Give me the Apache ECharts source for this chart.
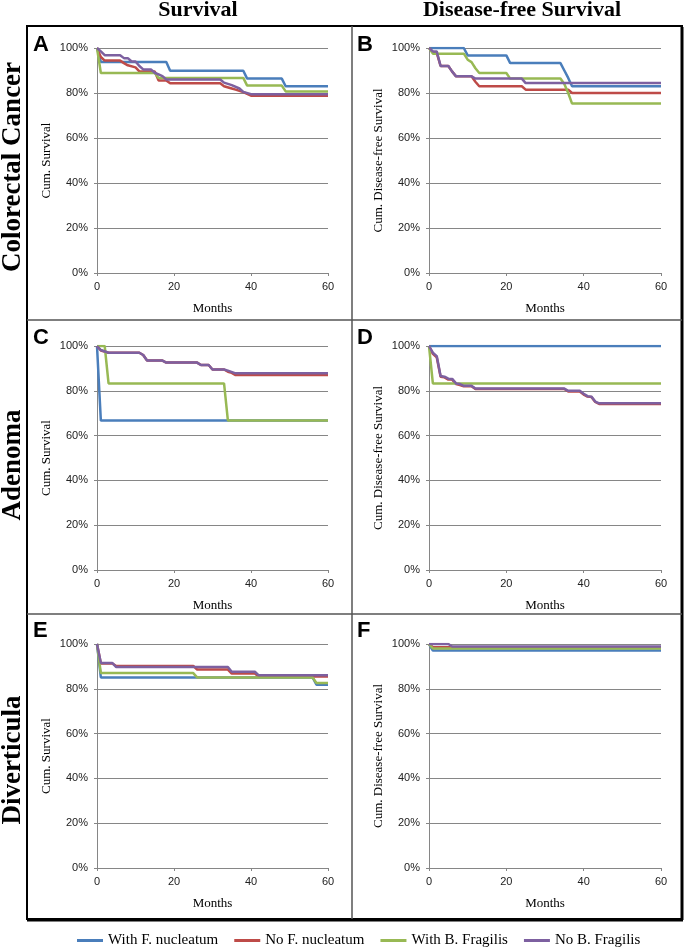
<!DOCTYPE html>
<html>
<head>
<meta charset="utf-8">
<title>Survival curves</title>
<script src="https://cdn.jsdelivr.net/npm/echarts@6/dist/echarts.min.js"></script>
<style>
html, body { margin: 0; padding: 0; background: #fff; }
#main { width: 685px; height: 949px; }
</style>
</head>
<body>
<div id="main"></div>
<script>
// legend / series names
var seriesNames = ['With F. nucleatum', 'No F. nucleatum', 'With B. Fragilis', 'No B. Fragilis'];
var monthTicks = [0, 20, 40, 60];
var pctTicks = [0, 20, 40, 60, 80, 100];

// A - colorectal cancer, survival  [month, %]
var A_withFn = [[0,100],[1,93.8],[18,93.8],[19,89.9],[38,89.9],[39,86.4],[48,86.4],[49,83],[60,83]];
var A_noFn = [[0,100],[1,96],[2,94.4],[6,94.4],[7,93.3],[8,92.3],[10,91.4],[11,89.6],[15,89.6],[16,85.6],[18,85.6],[19,84.3],[32,84.3],[33,83],[35,82],[36,81.5],[38,80.4],[40,78.8],[60,78.8]];
var A_withBf = [[0,100],[1,88.9],[15,88.9],[16,86.7],[38,86.7],[39,83.3],[48,83.3],[49,80.7],[60,80.7]];
var A_noBf = [[0,100],[1,98.5],[2,96.8],[6,96.8],[7,95.5],[8,95.5],[9,94],[10,94],[11,92],[12,90.5],[14,90.5],[15,89],[17,87.5],[18,86],[32,86],[33,84.6],[35,83.5],[37,82],[38,80.5],[40,79.5],[60,79.5]];

// B - colorectal cancer, disease-free survival
var B_withFn = [[0,100],[9,100],[10,96.7],[20,96.7],[21,93.3],[34,93.3],[35,90],[36,86.7],[37,83],[60,83]];
var B_noFn = [[0,100],[1,98.2],[2,97.8],[3,92],[5,92],[6,89.5],[7,87.4],[11,87.4],[12,85],[13,83],[24,83],[25,81.5],[36,81.5],[37,80],[60,80]];
var B_withBf = [[0,100],[1,97.5],[9,97.5],[10,94.8],[11,93.7],[12,91],[13,88.9],[20,88.9],[21,86.4],[34,86.4],[35,84],[36,80],[37,75.3],[60,75.3]];
var B_noBf = [[0,100],[1,98.5],[2,98.5],[3,92],[5,92],[6,89.5],[7,87.4],[11,87.4],[12,86.4],[24,86.4],[25,84.4],[60,84.4]];

// C - adenoma, survival
var C_withFn = [[0,100],[1,66.7],[60,66.7]];
var C_noFn = [[0,100],[1,98],[3,97],[11,97],[12,96],[13,93.5],[17,93.5],[18,92.6],[26,92.6],[27,91.5],[29,91.5],[30,89.5],[33,89.5],[34,88.5],[35,88],[36,87],[60,87]];
var C_withBf = [[0,100],[2,100],[3,83.3],[33,83.3],[34,66.7],[60,66.7]];
var C_noBf = [[0,100],[1,98.2],[3,97],[11,97],[12,96],[13,93.5],[17,93.5],[18,92.6],[26,92.6],[27,91.5],[29,91.5],[30,89.5],[33,89.5],[34,89],[36,87.8],[60,87.8]];

// D - adenoma, disease-free survival
var D_withFn = [[0,100],[60,100]];
var D_noFn = [[0,100],[1,96.5],[2,95],[3,86.3],[4,86],[5,85],[6,85],[7,83],[8,82.6],[9,82],[11,82],[12,80.8],[35,80.8],[36,79.7],[39,79.7],[40,78.3],[41,77.4],[42,77.2],[43,75],[44,74.1],[60,74.1]];
var D_withBf = [[0,100],[1,83.3],[60,83.3]];
var D_noBf = [[0,100],[1,97],[2,95.5],[3,86.6],[4,86.3],[5,85.4],[6,85.3],[7,83.3],[8,83],[9,82.2],[11,82.2],[12,81],[35,81],[36,80],[39,80],[40,78.7],[41,77.6],[42,77.4],[43,75.2],[44,74.4],[60,74.4]];

// E - diverticula, survival
var E_withFn = [[0,100],[1,85.1],[56,85.1],[57,81.8],[60,81.8]];
var E_noFn = [[0,100],[1,91.3],[4,91.3],[5,90.2],[25,90.2],[26,88.6],[34,88.6],[35,86.8],[41,86.8],[42,85.5],[60,85.5]];
var E_withBf = [[0,100],[1,87],[25,87],[26,85.1],[56,85.1],[57,82.6],[60,82.6]];
var E_noBf = [[0,100],[1,91.5],[4,91.5],[5,89.7],[34,89.7],[35,87.6],[41,87.6],[42,86],[60,86]];

// F - diverticula, disease-free survival
var F_withFn = [[0,100],[1,97.1],[60,97.1]];
var F_noFn = [[0,100],[1,98.6],[60,98.6]];
var F_withBf = [[0,100],[1,98],[60,98]];
var F_noBf = [[0,100],[5,100],[6,98.9],[60,98.9]];

var colors = ['#4A7EBB', '#BE4B48', '#98B954', '#7D60A0'];

var panels = [
    {letter: 'A', col: 0, row: 0, title: 'Cum. Survival', data: [A_withFn, A_noFn, A_withBf, A_noBf]},
    {letter: 'B', col: 1, row: 0, title: 'Cum. Disease-free Survival', data: [B_withFn, B_noFn, B_withBf, B_noBf]},
    {letter: 'C', col: 0, row: 1, title: 'Cum. Survival', data: [C_withFn, C_noFn, C_withBf, C_noBf]},
    {letter: 'D', col: 1, row: 1, title: 'Cum. Disease-free Survival', data: [D_withFn, D_noFn, D_withBf, D_noBf]},
    {letter: 'E', col: 0, row: 2, title: 'Cum. Survival', data: [E_withFn, E_noFn, E_withBf, E_noBf]},
    {letter: 'F', col: 1, row: 2, title: 'Cum. Disease-free Survival', data: [F_withFn, F_noFn, F_withBf, F_noBf]}
];

var colLeft = [97, 429];
var colWidth = [231, 232];
var rowTop = [48, 346, 644];
var rowHeight = [225, 224, 224];
var letterY = [45, 338, 631];
var colLetterX = [33, 357];

var gray = '#868686';
var grids = [], xAxes = [], yAxes = [], series = [], graphics = [];

for (var i = 0; i < panels.length; i++) {
    var p = panels[i];
    grids.push({left: colLeft[p.col], top: rowTop[p.row], width: colWidth[p.col], height: rowHeight[p.row]});
    xAxes.push({
        type: 'value', gridIndex: i,
        min: monthTicks[0], max: monthTicks[monthTicks.length - 1], interval: monthTicks[1] - monthTicks[0],
        name: 'Months', nameLocation: 'middle', nameGap: 29,
        nameTextStyle: {fontFamily: 'Liberation Serif', fontSize: 13, color: '#000'},
        axisLine: {lineStyle: {color: gray, width: 1}},
        axisTick: {show: true, length: 3, lineStyle: {color: gray}},
        axisLabel: {fontFamily: 'Liberation Sans', fontSize: 11, color: '#222', margin: 8},
        splitLine: {show: false}
    });
    yAxes.push({
        type: 'value', gridIndex: i,
        min: pctTicks[0], max: pctTicks[pctTicks.length - 1], interval: pctTicks[1] - pctTicks[0],
        name: p.title, nameLocation: 'middle', nameGap: 44,
        nameTextStyle: {fontFamily: 'Liberation Serif', fontSize: 13, color: '#000'},
        axisLine: {show: true, lineStyle: {color: gray, width: 1}},
        axisTick: {show: true, length: 3, lineStyle: {color: gray}},
        axisLabel: {fontFamily: 'Liberation Sans', fontSize: 11, color: '#222', margin: 9, formatter: '{value}%'},
        splitLine: {show: true, lineStyle: {color: gray, width: 1}}
    });
    for (var k = 0; k < 4; k++) {
        series.push({
            name: seriesNames[k], type: 'line',
            xAxisIndex: i, yAxisIndex: i,
            data: p.data[k],
            showSymbol: false, symbol: 'none',
            lineStyle: {color: colors[k], width: 2.5},
            itemStyle: {color: colors[k]},
            silent: true
        });
    }
    graphics.push({
        type: 'text', x: colLetterX[p.col], y: letterY[p.row],
        style: {text: p.letter, font: 'bold 22px "Liberation Sans"', fill: '#000', verticalAlign: 'middle'}
    });
}

// frame and separators
graphics.push({type: 'rect', shape: {x: 27, y: 26, width: 655, height: 893}, style: {fill: 'none', stroke: '#000', lineWidth: 2}});
graphics.push({type: 'line', shape: {x1: 682, y1: 27, x2: 682, y2: 920}, style: {stroke: '#000', lineWidth: 3}});
graphics.push({type: 'line', shape: {x1: 27, y1: 920, x2: 683, y2: 920}, style: {stroke: '#000', lineWidth: 3}});
graphics.push({type: 'line', shape: {x1: 352, y1: 26, x2: 352, y2: 919}, style: {stroke: '#555', lineWidth: 1.5}});
graphics.push({type: 'line', shape: {x1: 27, y1: 320, x2: 682, y2: 320}, style: {stroke: '#555', lineWidth: 1.5}});
graphics.push({type: 'line', shape: {x1: 27, y1: 614, x2: 682, y2: 614}, style: {stroke: '#555', lineWidth: 1.5}});

// column headers
graphics.push({type: 'text', x: 198, y: 10, style: {text: 'Survival', font: 'bold 22px "Liberation Serif"', fill: '#000', align: 'center', verticalAlign: 'middle'}});
graphics.push({type: 'text', x: 522, y: 10, style: {text: 'Disease-free Survival', font: 'bold 22px "Liberation Serif"', fill: '#000', align: 'center', verticalAlign: 'middle'}});

// row labels
var rowLabels = ['Colorectal Cancer', 'Adenoma', 'Diverticula'];
var rowCenter = [167, 465, 760];
for (var r = 0; r < rowLabels.length; r++) {
    graphics.push({
        type: 'text', x: 13, y: rowCenter[r], rotation: Math.PI / 2,
        style: {text: rowLabels[r], font: 'bold 27px "Liberation Serif"', fill: '#000', align: 'center', verticalAlign: 'middle'}
    });
}

var myChart = echarts.init(document.getElementById('main'));
myChart.setOption({
    animation: false,
    backgroundColor: '#fff',
    legend: {
        data: seriesNames, left: 77, top: 933, padding: 0,
        icon: 'rect', itemWidth: 26, itemHeight: 3, itemGap: 16,
        textStyle: {fontFamily: 'Liberation Serif', fontSize: 15, color: '#000'}
    },
    grid: grids,
    xAxis: xAxes,
    yAxis: yAxes,
    series: series,
    graphic: graphics
});
</script>
</body>
</html>
